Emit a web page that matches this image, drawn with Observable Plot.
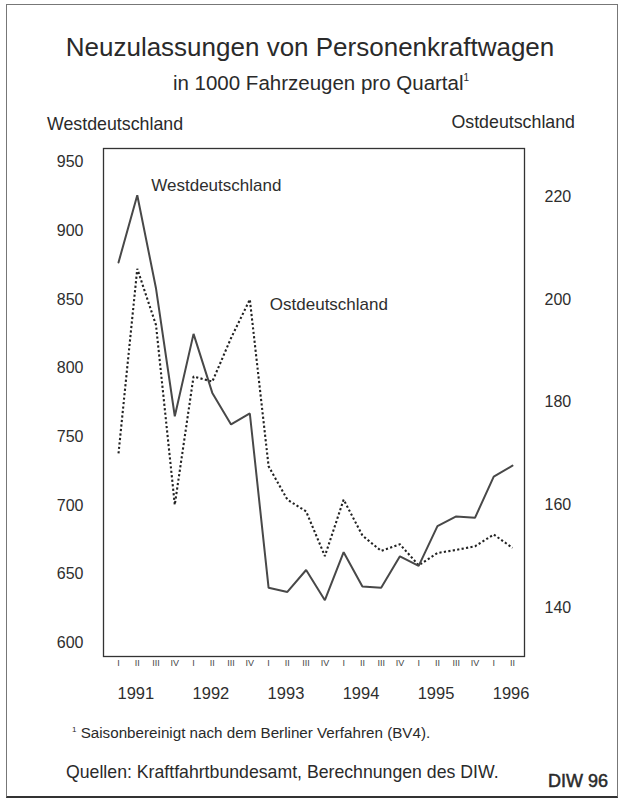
<!DOCTYPE html>
<html>
<head>
<meta charset="utf-8">
<script src="https://cdn.jsdelivr.net/npm/d3@7"></script>
<script src="https://cdn.jsdelivr.net/npm/@observablehq/plot@0.6"></script>
<style>
  html, body { margin: 0; padding: 0; background: #fff; }
  body { width: 624px; height: 802px; position: relative; overflow: hidden;
         font-family: "Liberation Sans", Arial, Helvetica, sans-serif; color: #2a2a2a; }
  .t { position: absolute; white-space: nowrap; }
  #border { position: absolute; left: 6px; top: 4px; width: 612px; height: 794px;
            border: 1px solid #777; border-bottom: 2px solid #333; box-sizing: border-box; }
  #chart { position: absolute; left: 0; top: 0; }
</style>
</head>
<body>
<div id="border"></div>
<div id="chart"></div>
<div class="t" id="title" style="left:0;width:620px;text-align:center;top:34px;font-size:26px;line-height:26px;">Neuzulassungen von Personenkraftwagen</div>
<div class="t" id="subtitle" style="left:0;width:642px;text-align:center;top:73px;font-size:20.5px;line-height:20.5px;">in 1000 Fahrzeugen pro Quartal<sup style="font-size:10px;vertical-align:9px;line-height:0">1</sup></div>
<div class="t" style="left:47px;top:116px;font-size:17.8px;line-height:17.8px;">Westdeutschland</div>
<div class="t" style="right:49px;top:114px;font-size:17.8px;line-height:17.8px;">Ostdeutschland</div>
<div class="t" style="left:72px;top:725px;font-size:15.2px;line-height:15.2px;"><sup style="font-size:8px;vertical-align:6px;line-height:0">1</sup> Saisonbereinigt nach dem Berliner Verfahren (BV4).</div>
<div class="t" style="left:66px;top:764px;font-size:17.7px;line-height:17.7px;">Quellen: Kraftfahrtbundesamt, Berechnungen des DIW.</div>
<div class="t" style="left:548px;top:772px;font-size:18px;line-height:18px;color:#2a2a2a;-webkit-text-stroke:0.5px #2a2a2a;">DIW 96</div>
<script>
// Quarter labels (1991 I ... 1996 II)
const quarterLabels = ["I","II","III","IV","I","II","III","IV","I","II","III","IV",
                       "I","II","III","IV","I","II","III","IV","I","II"];
const years = [1991, 1992, 1993, 1994, 1995, 1996];
// Westdeutschland, 1000 Fahrzeuge pro Quartal (left axis)
const west = [877, 926, 858, 765, 825, 782, 759, 767, 640, 637, 653, 631,
              666, 641, 640, 663, 656, 685, 692, 691, 721, 729];
// Ostdeutschland, 1000 Fahrzeuge pro Quartal (right axis)
const ost = [170, 206, 195, 160, 185, 184, 192.5, 200, 167.5, 161, 158.7, 150,
             161, 154, 151, 152.3, 148.2, 150.6, 151.2, 151.9, 154.2, 151.6];
const westTicks = [600, 650, 700, 750, 800, 850, 900, 950];
const ostTicks = [140, 160, 180, 200, 220];

// right axis is a linear rescale of the left one
const toWest = e => 850 + (e - 200) * 3.737;
const fromWest = w => 200 + (w - 850) / 3.737;

const rows = west.map((w, i) => ({i, w, o: toWest(ost[i])}));
const yearRows = years.map((y, k) => ({y, i: k * 4}));
const ink = "#2e2e2e";
const font = "Liberation Sans, Arial, sans-serif";

const chart = Plot.plot({
  width: 624,
  height: 720,
  marginTop: 148,
  marginBottom: 64,
  marginLeft: 103,
  marginRight: 100,
  style: {fontFamily: font, color: ink, background: "transparent", overflow: "visible"},
  x: {domain: [-0.8, 21.64], axis: null},
  y: {domain: [590, 960], axis: null},
  marks: [
    Plot.frame({stroke: "#333", strokeWidth: 1.3}),
    Plot.axisY({ticks: westTicks, tickSize: 0, tickPadding: 20, fontSize: 16, anchor: "left", label: null}),
    Plot.axisY({ticks: ostTicks.map(toWest), tickFormat: d => Math.round(fromWest(d)), tickSize: 0, tickPadding: 20, fontSize: 16, anchor: "right", label: null}),
    Plot.axisX({ticks: d3.range(quarterLabels.length), tickFormat: i => quarterLabels[i], tickSize: 0, tickPadding: 3, fontSize: 9, fill: "#444", anchor: "bottom", label: null}),
    Plot.text(yearRows, {x: "i", text: d => String(d.y), frameAnchor: "bottom", dy: 42, dx: -1, textAnchor: "start", fontSize: 16.5, fill: ink}),
    Plot.line(rows, {x: "i", y: "o", stroke: "#222", strokeWidth: 2.1, strokeDasharray: "2.2,2.3", strokeLinecap: "butt", strokeLinejoin: "miter"}),
    Plot.line(rows, {x: "i", y: "w", stroke: "#484848", strokeWidth: 2, strokeLinejoin: "miter"}),
    Plot.text([rows[1]], {x: "i", y: "w", text: () => "Westdeutschland", dx: 14, dy: -10, textAnchor: "start", fontSize: 17, fill: ink}),
    Plot.text([rows[7]], {x: "i", y: "o", text: () => "Ostdeutschland", dx: 20, dy: 5, textAnchor: "start", fontSize: 17, fill: ink})
  ]
});
document.getElementById("chart").appendChild(chart);
</script>
</body>
</html>
